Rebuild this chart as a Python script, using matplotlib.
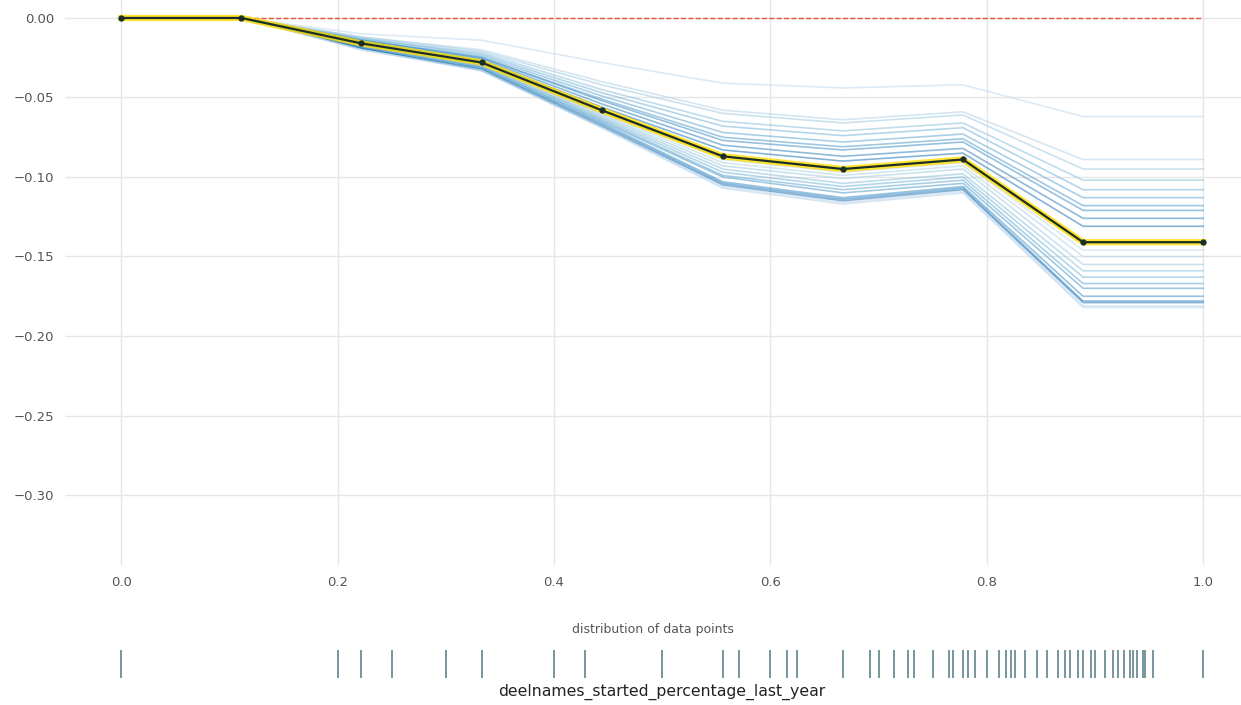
import numpy as np
import matplotlib
matplotlib.use("Agg")
import matplotlib.pyplot as plt

# grid points of the feature
grid = [0.0, 0.111, 0.222, 0.333, 0.444, 0.556, 0.667, 0.778, 0.889, 1.0]

# average (pdp) line
pdp = [0.0, 0.0, -0.016, -0.028, -0.058, -0.087, -0.095, -0.089, -0.141, -0.141]

# individual ICE lines
ice_lines = [
    [0, 0, -0.010, -0.014, -0.028, -0.041, -0.044, -0.042, -0.062, -0.062],
    [0, 0, -0.012, -0.020, -0.040, -0.058, -0.064, -0.059, -0.089, -0.089],
    [0, 0, -0.012, -0.021, -0.042, -0.060, -0.066, -0.061, -0.095, -0.095],
    [0, 0, -0.013, -0.022, -0.045, -0.065, -0.071, -0.066, -0.102, -0.102],
    [0, 0, -0.013, -0.023, -0.047, -0.068, -0.074, -0.069, -0.108, -0.108],
    [0, 0, -0.014, -0.024, -0.049, -0.072, -0.078, -0.073, -0.113, -0.113],
    [0, 0, -0.014, -0.025, -0.051, -0.075, -0.081, -0.076, -0.118, -0.118],
    [0, 0, -0.014, -0.025, -0.052, -0.077, -0.083, -0.078, -0.121, -0.121],
    [0, 0, -0.015, -0.026, -0.054, -0.080, -0.087, -0.082, -0.126, -0.126],
    [0, 0, -0.015, -0.027, -0.056, -0.083, -0.090, -0.085, -0.131, -0.131],
    [0, 0, -0.016, -0.028, -0.059, -0.089, -0.097, -0.091, -0.146, -0.146],
    [0, 0, -0.016, -0.029, -0.060, -0.091, -0.099, -0.093, -0.150, -0.150],
    [0, 0, -0.017, -0.029, -0.061, -0.093, -0.101, -0.095, -0.155, -0.155],
    [0, 0, -0.017, -0.030, -0.062, -0.095, -0.104, -0.098, -0.159, -0.159],
    [0, 0, -0.017, -0.030, -0.063, -0.097, -0.106, -0.100, -0.163, -0.163],
    [0, 0, -0.018, -0.031, -0.064, -0.099, -0.108, -0.102, -0.167, -0.167],
    [0, 0, -0.018, -0.031, -0.065, -0.100, -0.110, -0.104, -0.170, -0.170],
    [0, 0, -0.019, -0.032, -0.066, -0.103, -0.113, -0.106, -0.175, -0.175],
    [0, 0, -0.019, -0.032, -0.067, -0.104, -0.114, -0.107, -0.178, -0.178],
    [0, 0, -0.019, -0.033, -0.068, -0.105, -0.115, -0.108, -0.179, -0.179],
    [0, 0, -0.020, -0.033, -0.069, -0.106, -0.116, -0.109, -0.181, -0.181],
    [0, 0, -0.020, -0.033, -0.069, -0.107, -0.117, -0.110, -0.182, -0.182],
]

# feature values of the data points (rug)
data_points = [0.0, 0.200, 0.222, 0.250, 0.300, 0.333, 0.400, 0.429, 0.500,
               0.556, 0.571, 0.600, 0.615, 0.625, 0.667, 0.692, 0.700, 0.714,
               0.727, 0.733, 0.750, 0.765, 0.769, 0.778, 0.783, 0.789, 0.800,
               0.811, 0.818, 0.822, 0.826, 0.835, 0.846, 0.856, 0.866, 0.872,
               0.877, 0.884, 0.889, 0.896, 0.900, 0.909, 0.917, 0.921, 0.927,
               0.932, 0.935, 0.939, 0.944, 0.946, 0.954, 1.0]

feature_name = "deelnames_started_percentage_last_year"

xlim = (-0.052, 1.035)

fig = plt.figure(figsize=(12.41, 7.05), dpi=100)
ax = fig.add_axes([0.0524, 0.1986, 0.9476, 0.8014])

# ICE lines
colors = plt.get_cmap("Blues")(np.linspace(0, 1, 20))[5:15]
for i, line in enumerate(ice_lines):
    ax.plot(grid, line, color=colors[i % 10], linewidth=1.2, alpha=0.55, zorder=2)

# zero line
ax.plot(grid, [0] * len(grid), linestyle="--", linewidth=1, color="#E75438", zorder=3)

# pdp line with highlight
ax.plot(grid, pdp, color="#FEDC00", linewidth=4.5, alpha=0.8, zorder=4)
ax.plot(grid, pdp, color="#1A2E25", linewidth=1.6, marker="o", markersize=3.5, zorder=5)

ax.set_xlim(xlim)
ax.set_ylim(-0.344, 0.0113)
ax.set_xticks([0.0, 0.2, 0.4, 0.6, 0.8, 1.0])
ax.set_yticks([0.0, -0.05, -0.10, -0.15, -0.20, -0.25, -0.30])
ax.set_yticklabels(["0.00", "\u22120.05", "\u22120.10", "\u22120.15", "\u22120.20", "\u22120.25", "\u22120.30"])
ax.set_xticklabels(["0.0", "0.2", "0.4", "0.6", "0.8", "1.0"])
ax.tick_params(length=0, labelsize=9.5, colors="#555555", pad=8)
ax.grid(True, color="#e6e6e6", linewidth=1)
ax.set_axisbelow(True)
for s in ax.spines.values():
    s.set_visible(False)

# distribution of data points
ax2 = fig.add_axes([0.0524, 0.02, 0.9476, 0.075])
ax2.plot(data_points, [1] * len(data_points), "|", color="#1A4E5D",
         markersize=20, markeredgewidth=1.3, alpha=0.65)
ax2.set_xlim(xlim)
ax2.set_ylim(0.5, 1.5)
ax2.axis("off")

fig.text(0.526, 1 - 630 / 705, "distribution of data points", ha="center", va="center",
         fontsize=9, color="#555555")
fig.text(0.533, 1 - 692 / 705, feature_name, ha="center", va="center",
         fontsize=11.3, color="#222222")

fig.savefig("out.png", dpi=100)
